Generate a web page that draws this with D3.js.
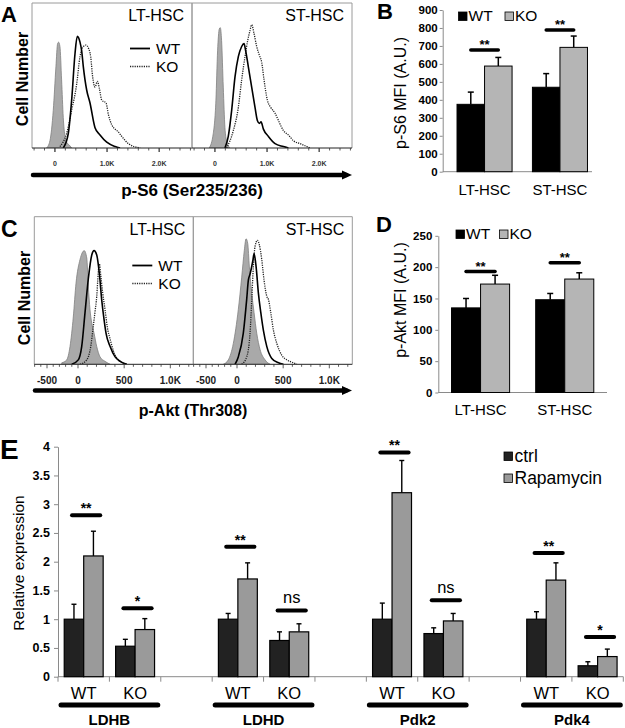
<!DOCTYPE html>
<html><head><meta charset="utf-8">
<script src="https://cdn.jsdelivr.net/npm/d3@7"></script>
<style>
body{margin:0;background:#fff}
svg{display:block}
text{font-family:"Liberation Sans",Arial,Helvetica,sans-serif;fill:#000}
</style>
</head><body>
<svg id="c" width="625" height="728"></svg>
<script>
// ================= DATA =================
// Panel A histograms (p-S6): [fluorescence, height in % of plot height]
const aLtIso = [[-160,0],[-96,5],[-32,26],[19,56],[51,72],[71,73],[96,70],[128,47],[160,21],[192,8],[224,4],[276,2],[321,0]];
const aLtWT  = [[160,0],[256,10],[321,33],[385,65],[429,77],[481,73],[513,67],[545,56],[609,40],[673,31],[769,14],[865,9],[994,4],[1154,1],[1250,0]];
const aLtKO  = [[96,1],[224,10],[321,26],[417,44],[481,63],[545,70],[596,71],[641,69],[686,63],[724,49],[769,42],[814,46],[853,41],[898,33],[981,31],[1026,23],[1090,16],[1154,13],[1218,11],[1282,8],[1410,3],[1635,0]];
const aStIso = [[-109,0],[-32,10],[19,33],[51,67],[83,82],[103,83],[128,74],[160,42],[192,14],[224,5],[288,0]];
const aStWT  = [[192,0],[256,8],[321,26],[385,49],[449,63],[513,70],[558,72],[590,67],[641,56],[705,42],[769,28],[814,19],[853,17],[885,18],[930,13],[1026,8],[1154,3],[1314,1],[1410,0]];
const aStKO  = [[224,0],[353,12],[449,28],[513,47],[577,63],[628,74],[673,81],[705,85],[750,79],[801,70],[853,64],[898,59],[942,47],[1006,33],[1070,28],[1154,24],[1218,19],[1314,12],[1410,9],[1506,5],[1635,3],[1827,0]];
const aTicks = [0, 1000, 2000];
const aTickLabels = ["0", "1.0K", "2.0K"];

// Panel C histograms (p-Akt)
const cLtIso = [[-262,1],[-182,3],[-129,12],[-76,32],[-32,55],[22,71],[68,77],[95,72],[112,53],[130,37],[149,28],[174,21],[203,12],[239,5],[293,2],[348,0]];
const cLtWT  = [[-101,0],[3,3],[40,12],[76,35],[112,58],[149,74],[174,77],[203,74],[232,61],[258,43],[283,30],[304,21],[348,12],[402,5],[457,2],[529,0]];
const cLtKO  = [[22,0],[95,3],[138,12],[166,26],[185,36],[203,46],[214,57],[225,66],[232,68],[247,60],[268,48],[293,37],[318,25],[348,17],[384,9],[438,3],[529,0]];
const cStIso = [[-221,0],[-140,3],[-60,14],[14,37],[51,59],[79,77],[98,85],[116,82],[134,66],[160,48],[185,35],[214,21],[250,10],[304,3],[359,0]];
const cStWT  = [[-32,0],[14,5],[68,21],[105,44],[123,57],[141,61],[171,70],[185,75],[207,66],[232,48],[258,35],[286,23],[323,12],[377,4],[449,1],[503,0]];
const cStKO  = [[51,0],[105,5],[141,21],[160,44],[177,66],[196,80],[221,84],[242,81],[268,71],[293,57],[323,46],[340,44],[366,35],[395,23],[432,14],[486,6],[540,3],[612,1],[649,0]];
const cTicks = [-500, 0, 500, 1000];
const cTickLabels = ["-500", "0", "500", "1.0K"];

const histPanels = ["LT-HSC", "ST-HSC"];
const histSeries = ["WT", "KO"];

// Panel B: p-S6 MFI
const bCats = ["LT-HSC", "ST-HSC"];
const bWT = [375, 470];
const bWTerr = [68, 76];
const bKO = [588, 692];
const bKOerr = [48, 63];
const bSig = [677, 788];
const bSigLabel = ["**", "**"];
const bTicks = [0,100,200,300,400,500,600,700,800,900];

// Panel D: p-Akt MFI
const dCats = ["LT-HSC", "ST-HSC"];
const dWT = [135, 148];
const dWTerr = [15, 10];
const dKO = [173, 181];
const dKOerr = [14, 10];
const dSig = [193, 207];
const dSigLabel = ["**", "**"];
const dTicks = [0,50,100,150,200,250];

// Panel E: relative expression
const eGenes = ["LDHB", "LDHD", "Pdk2", "Pdk4"];
const eGenotypes = ["WT", "KO"];
const eSeries = ["ctrl", "Rapamycin"];
// order: LDHB-WT, LDHB-KO, LDHD-WT, LDHD-KO, Pdk2-WT, Pdk2-KO, Pdk4-WT, Pdk4-KO
const eCtrl = [1.00, 0.53, 1.00, 0.63, 1.00, 0.75, 1.00, 0.19];
const eCtrlErr = [0.26, 0.12, 0.10, 0.15, 0.28, 0.10, 0.13, 0.07];
const eRapa = [2.10, 0.82, 1.70, 0.78, 3.20, 0.97, 1.68, 0.35];
const eRapaErr = [0.43, 0.19, 0.28, 0.14, 0.56, 0.13, 0.30, 0.13];
const eSig = [2.81, 1.19, 2.26, 1.15, 3.90, 1.33, 2.15, 0.69];
const eSigLabel = ["**", "*", "**", "ns", "**", "ns", "**", "*"];
const eTicks = [0,0.5,1,1.5,2,2.5,3,3.5,4];

// ================= DRAW =================
const svg = d3.select("#c");
const WTC = "#000", KOC = "#b5b5b5";

function letter(t, x, y, size) {
  svg.append("text").attr("x", x).attr("y", y).attr("font-size", size).attr("font-weight", "bold").text(t);
}

function drawArrow(x1, x2, y) {
  svg.append("line").attr("x1", x1).attr("x2", x2 - 6).attr("y1", y).attr("y2", y)
    .attr("stroke", "#000").attr("stroke-width", 4.5).attr("stroke-linecap", "round");
  svg.append("path").attr("d", d3.line()([[x2 - 10, y - 4.5], [x2, y], [x2 - 10, y + 4.5]]) + "Z").attr("fill", "#000");
}

function histogram(cfg) {
  const { xs, top, base, iso, wt, ko, title, legendY, ticks, tickLabels, tickFont, tickY, minorTicks, showLegend } = cfg;
  const y = d3.scaleLinear([0, 100], [base, top]);
  const r = xs.range();
  const x0 = r[0], x1 = r[r.length - 1];
  const g = svg.append("g");
  const clipId = "clip" + Math.round(x0) + "_" + Math.round(top);
  g.append("clipPath").attr("id", clipId).append("rect").attr("x", x0).attr("y", top).attr("width", x1 - x0).attr("height", base - top);
  const inner = g.append("g").attr("clip-path", `url(#${clipId})`);
  const area = d3.area().x(d => xs(d[0])).y0(base).y1(d => y(d[1])).curve(d3.curveMonotoneX);
  const line = d3.line().x(d => xs(d[0])).y(d => y(d[1])).curve(d3.curveMonotoneX);
  inner.append("path").datum(iso).attr("d", area).attr("fill", "#a9a9a9").attr("stroke", "#808080").attr("stroke-width", 0.8);
  inner.append("path").datum(ko).attr("d", line).attr("fill", "none").attr("stroke", "#222").attr("stroke-width", 1.3).attr("stroke-dasharray", "1.2,1.1");
  inner.append("path").datum(wt).attr("d", line).attr("fill", "none").attr("stroke", "#000").attr("stroke-width", 1.6);
  // frame
  g.append("path").attr("d", `M${x0},${base}V${top}H${x1}V${base}`).attr("fill", "none").attr("stroke", "#9a9a9a").attr("stroke-width", 1);
  g.append("line").attr("x1", x0).attr("x2", x1).attr("y1", base).attr("y2", base).attr("stroke", "#222").attr("stroke-width", 1);
  // ticks
  g.selectAll(".mt").data(minorTicks).enter().append("line")
    .attr("x1", d => xs(d)).attr("x2", d => xs(d)).attr("y1", base).attr("y2", d => base + (ticks.includes(d) ? 4 : 2.5))
    .attr("stroke", "#333").attr("stroke-width", 0.8);
  g.selectAll(".tl").data(ticks).enter().append("text")
    .attr("x", d => xs(d)).attr("y", tickY).attr("text-anchor", "middle")
    .attr("font-family", "DejaVu Sans").attr("font-weight", "bold").attr("font-size", tickFont)
    .style("fill", tickFont < 8 ? "#333" : "#222")
    .text((d, i) => tickLabels[i]);
  // title
  g.append("text").attr("x", x1 - 8).attr("y", top + 18).attr("text-anchor", "end").attr("font-size", 16).text(title);
  if (showLegend) {
    const lx = x0 + 98;
    histSeries.forEach((s, i) => {
      const ly = legendY + i * 18;
      g.append("line").attr("x1", lx).attr("x2", lx + 20).attr("y1", ly).attr("y2", ly)
        .attr("stroke", i === 0 ? "#000" : "#222").attr("stroke-width", i === 0 ? 1.8 : 1.4)
        .attr("stroke-dasharray", i === 0 ? null : "1.2,1.1");
      g.append("text").attr("x", lx + 26).attr("y", ly + 5).attr("font-size", 15.5).text(s);
    });
  }
}

// ---- Panel A ----
letter("A", 1, 21.5, 22);
const aMinor = d3.range(-400, 2601, 200).concat(aTicks);
const aX = [
  d3.scaleLinear([-440, 2630], [32, 192]),
  d3.scaleLinear([-440, 2630], [192, 352])
];
const aData = [[aLtIso, aLtWT, aLtKO], [aStIso, aStWT, aStKO]];
histPanels.forEach((p, i) => histogram({
  xs: aX[i], top: 3, base: 148, iso: aData[i][0], wt: aData[i][1], ko: aData[i][2],
  title: p, legendY: 48.5, ticks: aTicks, tickLabels: aTickLabels, tickFont: 7, tickY: 165.5,
  minorTicks: aMinor, showLegend: i === 0
}));
svg.append("text").attr("transform", "translate(28,79) rotate(-90)").attr("text-anchor", "middle")
  .attr("font-size", 16).attr("font-weight", "bold").text("Cell Number");
drawArrow(33, 352, 175);
svg.append("text").attr("x", 192).attr("y", 196).attr("text-anchor", "middle").attr("font-size", 17)
  .attr("font-weight", "bold").text("p-S6 (Ser235/236)");

// ---- Panel C ----
letter("C", 1, 236.5, 23);
const cMinor = d3.range(-700, 1201, 100);
const cX = [
  d3.scaleLinear([-705, 0, 1249], [34.3, 78, 193.3]),
  d3.scaleLinear([-705, 0, 1249], [193.3, 237, 352.3])
];
const cData = [[cLtIso, cLtWT, cLtKO], [cStIso, cStWT, cStKO]];
histPanels.forEach((p, i) => histogram({
  xs: cX[i], top: 216.7, base: 364.3, iso: cData[i][0], wt: cData[i][1], ko: cData[i][2],
  title: p, legendY: 265.5, ticks: cTicks, tickLabels: cTickLabels, tickFont: 10, tickY: 384,
  minorTicks: cMinor, showLegend: i === 0
}));
svg.append("text").attr("transform", "translate(30,298) rotate(-90)").attr("text-anchor", "middle")
  .attr("font-size", 16).attr("font-weight", "bold").text("Cell Number");
drawArrow(35, 352, 390.5);
svg.append("text").attr("x", 193).attr("y", 415.5).attr("text-anchor", "middle").attr("font-size", 16)
  .attr("font-weight", "bold").text("p-Akt (Thr308)");

// ---- Bar panels B and D ----
function barPanel(cfg) {
  const { cats, wt, wtErr, ko, koErr, sig, sigLabel, ticks, yDom, yRange, xRange, pin, pout, align, ylabel, ylabelX, ylabelY, labelY, legendY, legendX, tickPad } = cfg;
  const y = d3.scaleLinear(yDom, yRange);
  const x0 = d3.scaleBand(cats, xRange).paddingInner(pin).paddingOuter(pout).align(align);
  const x1 = d3.scaleBand(histSeries, [0, x0.bandwidth()]);
  const g = svg.append("g");
  const ax = g.append("g").attr("transform", `translate(${xRange[0]},0)`)
    .call(d3.axisLeft(y).tickValues(ticks).tickSizeInner(3).tickSizeOuter(0).tickPadding(tickPad).tickFormat(d3.format("d")));
  ax.select(".domain").attr("stroke", "#8a8a8a");
  ax.selectAll(".tick line").attr("stroke", "#8a8a8a");
  ax.selectAll("text").attr("font-size", 11.5).attr("font-weight", "bold").attr("font-family", "Liberation Sans, Arial, sans-serif").style("fill", "#000");
  g.append("line").attr("x1", xRange[0]).attr("x2", xRange[1]).attr("y1", y(0)).attr("y2", y(0)).attr("stroke", "#8a8a8a");
  const series = [{ k: "WT", v: wt, e: wtErr, c: WTC }, { k: "KO", v: ko, e: koErr, c: KOC }];
  series.forEach(s => {
    cats.forEach((c, i) => {
      const bx = x0(c) + x1(s.k), bw = x1.bandwidth(), cx = bx + bw / 2;
      g.append("line").attr("x1", cx).attr("x2", cx).attr("y1", y(s.v[i])).attr("y2", y(s.v[i] + s.e[i])).attr("stroke", "#000").attr("stroke-width", 1.5);
      g.append("line").attr("x1", cx - 3).attr("x2", cx + 3).attr("y1", y(s.v[i] + s.e[i])).attr("y2", y(s.v[i] + s.e[i])).attr("stroke", "#000").attr("stroke-width", 1.5);
      g.append("rect").attr("x", bx).attr("y", y(s.v[i])).attr("width", bw).attr("height", y(0) - y(s.v[i]))
        .attr("fill", s.c).attr("stroke", "#000").attr("stroke-width", 1);
    });
  });
  cats.forEach((c, i) => {
    const xa = x0(c) + x1("WT") + x1.bandwidth() / 2, xb = x0(c) + x1("KO") + x1.bandwidth() / 2;
    g.append("line").attr("x1", xa).attr("x2", xb).attr("y1", y(sig[i])).attr("y2", y(sig[i]))
      .attr("stroke", "#000").attr("stroke-width", 3.5).attr("stroke-linecap", "round");
    g.append("text").attr("x", (xa + xb) / 2).attr("y", y(sig[i]) - 1).attr("text-anchor", "middle")
      .attr("font-size", 13).attr("font-weight", "bold").text(sigLabel[i]);
    g.append("text").attr("x", x0(c) + x0.bandwidth() / 2).attr("y", labelY).attr("text-anchor", "middle")
      .attr("font-size", 15).text(c);
  });
  g.append("text").attr("transform", `translate(${ylabelX},${ylabelY}) rotate(-90)`).attr("text-anchor", "middle")
    .attr("font-size", 16).text(ylabel);
  // legend
  series.forEach((s, i) => {
    const lx = legendX[i];
    g.append("rect").attr("x", lx).attr("y", legendY - 9).attr("width", 8.5).attr("height", 8.5)
      .attr("fill", s.c).attr("stroke", "#000").attr("stroke-width", 0.8);
    g.append("text").attr("x", lx + 10).attr("y", legendY).attr("font-size", 15.5).text(s.k);
  });
}

letter("B", 377, 19, 22);
barPanel({
  cats: bCats, wt: bWT, wtErr: bWTerr, ko: bKO, koErr: bKOerr, sig: bSig, sigLabel: bSigLabel,
  ticks: bTicks, yDom: [0, 900], yRange: [171.7, 10], xRange: [442.7, 592], pin: 0.27, pout: 0.125, align: 0.76,
  ylabel: "p-S6 MFI (A.U.)", ylabelX: 406, ylabelY: 93, labelY: 195, legendY: 21, legendX: [458.5, 505], tickPad: 2
});

letter("D", 376, 232, 22);
barPanel({
  cats: dCats, wt: dWT, wtErr: dWTerr, ko: dKO, koErr: dKOerr, sig: dSig, sigLabel: dSigLabel,
  ticks: dTicks, yDom: [0, 250], yRange: [392.5, 235.8], xRange: [438.3, 607], pin: 0.31, pout: 0.157, align: 0.5,
  ylabel: "p-Akt MFI (A.U.)", ylabelX: 406, ylabelY: 300, labelY: 415, legendY: 239, legendX: [456, 499.5], tickPad: 3
});

// ---- Panel E ----
letter("E", 0, 458.5, 28);
(function () {
  const slots = [];
  eGenes.forEach((gname, gi) => {
    eGenotypes.forEach(gt => slots.push(gname + "|" + gt));
    if (gi < eGenes.length - 1) slots.push("gap" + gi);
  });
  const x = d3.scaleBand(slots, [58, 623.3]);
  const xi = d3.scaleBand(eSeries, [0, x.bandwidth()]).paddingOuter(0.32);
  const y = d3.scaleLinear([0, 4], [676.7, 446.7]);
  const g = svg.append("g");
  const ax = g.append("g").attr("transform", "translate(58,0)")
    .call(d3.axisLeft(y).tickValues(eTicks).tickSizeInner(4).tickSizeOuter(0).tickPadding(4).tickFormat(d3.format(".1~f")));
  ax.select(".domain").attr("stroke", "#8a8a8a");
  ax.selectAll(".tick line").attr("stroke", "#8a8a8a");
  ax.selectAll("text").attr("font-size", 12.5).attr("font-weight", "bold").attr("font-family", "Liberation Sans, Arial, sans-serif").style("fill", "#000");
  g.append("line").attr("x1", 58).attr("x2", 623.3).attr("y1", y(0)).attr("y2", y(0)).attr("stroke", "#8a8a8a");
  const bounds = slots.map(s => x(s)).concat([x(slots[slots.length - 1]) + x.bandwidth()]);
  g.selectAll(".xt").data(bounds).enter().append("line")
    .attr("x1", d => d).attr("x2", d => d).attr("y1", y(0)).attr("y2", y(0) + 5).attr("stroke", "#8a8a8a");

  const keys = [];
  eGenes.forEach(gn => eGenotypes.forEach(gt => keys.push(gn + "|" + gt)));
  const ser = [{ k: "ctrl", v: eCtrl, e: eCtrlErr, c: "#222" }, { k: "Rapamycin", v: eRapa, e: eRapaErr, c: "#9a9a9a" }];
  keys.forEach((key, i) => {
    ser.forEach(s => {
      const bx = x(key) + xi(s.k), bw = xi.bandwidth(), cx = bx + bw / 2;
      const top = y(s.v[i]), et = y(s.v[i] + s.e[i]);
      g.append("line").attr("x1", cx).attr("x2", cx).attr("y1", top).attr("y2", et).attr("stroke", "#000").attr("stroke-width", 1.4);
      g.append("line").attr("x1", cx - 2.5).attr("x2", cx + 2.5).attr("y1", et).attr("y2", et).attr("stroke", "#000").attr("stroke-width", 1.4);
      g.append("rect").attr("x", bx).attr("y", top).attr("width", bw).attr("height", y(0) - top)
        .attr("fill", s.c).attr("stroke", "#000").attr("stroke-width", 1.2);
    });
    const bw = xi.bandwidth();
    const xa = x(key) + xi("ctrl") + bw * 0.4, xb = x(key) + xi("Rapamycin") + bw * 0.85;
    const ly = y(eSig[i]);
    g.append("line").attr("x1", xa).attr("x2", xb).attr("y1", ly).attr("y2", ly)
      .attr("stroke", "#000").attr("stroke-width", 4).attr("stroke-linecap", "round");
    const isNs = eSigLabel[i] === "ns";
    g.append("text").attr("x", (xa + xb) / 2).attr("y", isNs ? ly - 7.5 : ly - 2).attr("text-anchor", "middle")
      .attr("font-size", isNs ? 16.5 : 14).attr("font-weight", isNs ? "normal" : "bold").text(eSigLabel[i]);
    // genotype label
    g.append("text").attr("x", x(key) + x.bandwidth() / 2).attr("y", 698.5).attr("text-anchor", "middle")
      .attr("font-size", 16.5).text(key.split("|")[1]);
  });
  eGenes.forEach(gn => {
    const xa = x(gn + "|WT") + 3, xb = x(gn + "|KO") + x.bandwidth() - 3;
    g.append("line").attr("x1", xa).attr("x2", xb).attr("y1", 705).attr("y2", 705)
      .attr("stroke", "#000").attr("stroke-width", 5).attr("stroke-linecap", "round");
    g.append("text").attr("x", (xa + xb) / 2).attr("y", 724.5).attr("text-anchor", "middle")
      .attr("font-size", 15).attr("font-weight", "bold").text(gn);
  });
  g.append("text").attr("transform", "translate(23.5,563) rotate(-90)").attr("text-anchor", "middle")
    .attr("font-size", 15.5).text("Relative expression");
  // legend
  ser.forEach((s, i) => {
    const ly = 461.5 + i * 22;
    g.append("rect").attr("x", 504).attr("y", ly - 9.5).attr("width", 8.5).attr("height", 8.5)
      .attr("fill", s.c).attr("stroke", "#000").attr("stroke-width", 0.8);
    g.append("text").attr("x", 514.5).attr("y", ly).attr("font-size", 17.5).text(s.k);
  });
})();
</script>
</body></html>
